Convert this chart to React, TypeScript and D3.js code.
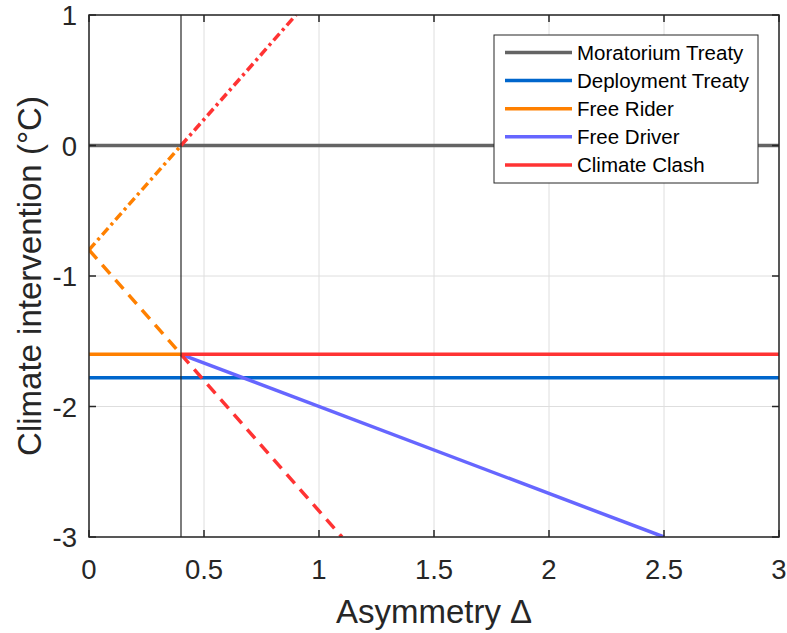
import React from "react";
import * as d3 from "d3";

const xTicks = [0, 0.5, 1, 1.5, 2, 2.5, 3];
const yTicks = [-3, -2, -1, 0, 1];
const seriesNames = ["Moratorium Treaty", "Deployment Treaty", "Free Rider", "Free Driver", "Climate Clash"];
const seriesColors = ["#646464", "#0066CC", "#FF8000", "#6666FF", "#FF3333"];

// [x, y] pairs
const moratorium: [number, number][] = [[0, 0], [3, 0]];
const deployment: [number, number][] = [[0, -1.78], [3, -1.78]];
const freeRiderSolid: [number, number][] = [[0, -1.6], [0.4, -1.6]];
const freeRiderDashDot: [number, number][] = [[0, -0.8], [0.4, 0]];
const freeRiderDashed: [number, number][] = [[0, -0.8], [0.4, -1.6]];
const freeDriver: [number, number][] = [[0.4, -1.6], [2.5, -3]];
const clashSolid: [number, number][] = [[0.4, -1.6], [3, -1.6]];
const clashDashDot: [number, number][] = [[0.4, 0], [0.9, 1]];
const clashDashed: [number, number][] = [[0.4, -1.6], [1.1, -3]];
const thresholdX = 0.4;

const W = 787, H = 633;
const L = 89, R = 779, T = 15, B = 537;
const FONT = "'Liberation Sans', Arial, Helvetica, sans-serif";

export default function App() {
  const x = d3.scaleLinear().domain([0, 3]).range([L, R]);
  const y = d3.scaleLinear().domain([-3, 1]).range([B, T]);
  const line = d3.line<[number, number]>().x(d => x(d[0])).y(d => y(d[1]));

  const lines = [
    { d: moratorium, c: seriesColors[0], dash: undefined },
    { d: deployment, c: seriesColors[1], dash: undefined },
    { d: freeDriver, c: seriesColors[3], dash: undefined },
    { d: freeRiderSolid, c: seriesColors[2], dash: undefined },
    { d: clashSolid, c: seriesColors[4], dash: undefined },
    { d: freeRiderDashDot, c: seriesColors[2], dash: "9,4,3,4" },
    { d: freeRiderDashed, c: seriesColors[2], dash: "12,8" },
    { d: clashDashDot, c: seriesColors[4], dash: "9,4,3,4" },
    { d: clashDashed, c: seriesColors[4], dash: "12,8" },
  ];

  const tickLen = 7;
  const legX = 494, legY = 35, legW = 264, legH = 148;

  return (
    <svg width={W} height={H} style={{ position: "absolute", left: 0, top: 0, background: "#fff" }} fontFamily={FONT}>
      <rect x={0} y={0} width={W} height={H} fill="#fff" />
      <defs>
        <clipPath id="plot">
          <rect x={L} y={T} width={R - L} height={B - T} />
        </clipPath>
      </defs>
      {/* grid */}
      {xTicks.map(t => (
        <line key={"gx" + t} x1={x(t)} x2={x(t)} y1={T} y2={B} stroke="#dedede" strokeWidth={1} />
      ))}
      {yTicks.map(t => (
        <line key={"gy" + t} x1={L} x2={R} y1={y(t)} y2={y(t)} stroke="#dedede" strokeWidth={1} />
      ))}
      {/* data */}
      <g clipPath="url(#plot)">
        {lines.map((l, i) => (
          <path key={i} d={line(l.d) || ""} fill="none" stroke={l.c} strokeWidth={3.5} strokeDasharray={l.dash} />
        ))}
      </g>
      <line x1={x(thresholdX)} x2={x(thresholdX)} y1={T} y2={B} stroke="#262626" strokeWidth={1.2} />
      {/* box */}
      <rect x={L} y={T} width={R - L} height={B - T} fill="none" stroke="#262626" strokeWidth={1.5} />
      {/* ticks */}
      {xTicks.map(t => (
        <g key={"tx" + t}>
          <line x1={x(t)} x2={x(t)} y1={B} y2={B - tickLen} stroke="#262626" strokeWidth={1.5} />
          <line x1={x(t)} x2={x(t)} y1={T} y2={T + tickLen} stroke="#262626" strokeWidth={1.5} />
          <text x={x(t)} y={B + 42} textAnchor="middle" fontSize={27.5} fill="#262626">{t}</text>
        </g>
      ))}
      {yTicks.map(t => (
        <g key={"ty" + t}>
          <line x1={L} x2={L + tickLen} y1={y(t)} y2={y(t)} stroke="#262626" strokeWidth={1.5} />
          <line x1={R} x2={R - tickLen} y1={y(t)} y2={y(t)} stroke="#262626" strokeWidth={1.5} />
          <text x={L - 12} y={y(t) + 10} textAnchor="end" fontSize={27.5} fill="#262626">{t}</text>
        </g>
      ))}
      {/* axis labels */}
      <text x={(L + R) / 2} y={623} textAnchor="middle" fontSize={33} fill="#262626">Asymmetry Δ</text>
      <text transform={`translate(41, ${(T + B) / 2}) rotate(-90)`} textAnchor="middle" fontSize={33} fill="#262626">Climate intervention (°C)</text>
      {/* legend */}
      <rect x={legX} y={legY} width={legW} height={legH} fill="#fff" stroke="#262626" strokeWidth={1} />
      {seriesNames.map((n, i) => {
        const yy = legY + 17.5 + i * 28.1;
        return (
          <g key={n}>
            <line x1={505} x2={572} y1={yy} y2={yy} stroke={seriesColors[i]} strokeWidth={3.5} />
            <text x={577} y={yy + 7.5} fontSize={20.5} fill="#000">{n}</text>
          </g>
        );
      })}
    </svg>
  );
}
